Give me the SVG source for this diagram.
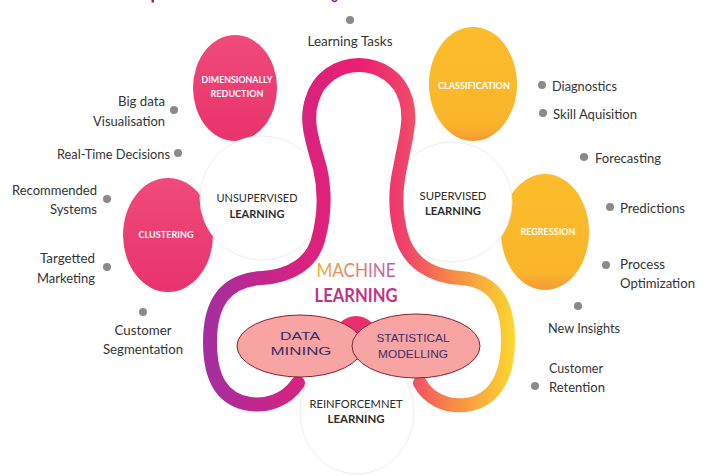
<svg xmlns="http://www.w3.org/2000/svg" width="709" height="476" viewBox="0 0 709 476">
<defs>
<linearGradient id="tube" gradientUnits="userSpaceOnUse" x1="205" y1="0" x2="515" y2="0">
<stop offset="0" stop-color="#a32ea0"/>
<stop offset="0.3" stop-color="#d6237f"/>
<stop offset="0.5" stop-color="#ea1f72"/>
<stop offset="0.65" stop-color="#f0456a"/>
<stop offset="0.8" stop-color="#f78a45"/>
<stop offset="1" stop-color="#fbd92e"/>
</linearGradient>
<linearGradient id="mach" gradientUnits="userSpaceOnUse" x1="316" y1="0" x2="398" y2="0">
<stop offset="0" stop-color="#f2a83a"/>
<stop offset="0.5" stop-color="#e08070"/>
<stop offset="1" stop-color="#b85ab8"/>
</linearGradient>
<linearGradient id="learn" gradientUnits="userSpaceOnUse" x1="315" y1="0" x2="398" y2="0">
<stop offset="0" stop-color="#b8358f"/>
<stop offset="1" stop-color="#c8307f"/>
</linearGradient>
<linearGradient id="pinkfill" x1="0" y1="0" x2="0" y2="1">
<stop offset="0" stop-color="#f04a7c"/>
<stop offset="1" stop-color="#e8336c"/>
</linearGradient>
<linearGradient id="yellowfill" x1="0" y1="0" x2="0" y2="1">
<stop offset="0" stop-color="#fbbd2c"/>
<stop offset="0.85" stop-color="#fab52a"/>
<stop offset="1" stop-color="#f59a35"/>
</linearGradient>
</defs>
<style>
.lbl{font-family:Lato,"Liberation Sans",sans-serif;font-size:14px;fill:#333333}
.dot{fill:#8a8a8a}
.pink{fill:url(#pinkfill)}
.yel{fill:url(#yellowfill)}
.ctxt{font-family:Lato,"Liberation Sans",sans-serif;font-weight:bold;font-size:9px;fill:#ffffff;text-anchor:middle}
.white{fill:#ffffff;stroke:#ececec;stroke-width:1}
.wtxt{font-family:Lato,"Liberation Sans",sans-serif;font-size:12px;fill:#2c2c2c;text-anchor:middle}
.wtxtb{font-family:Lato,"Liberation Sans",sans-serif;font-size:12px;font-weight:bold;fill:#2c2c2c;text-anchor:middle}
.ell{fill:#f7a4a2;stroke:#8b2030;stroke-width:1}
.etxt{font-family:"Liberation Sans",Arial,sans-serif;font-size:11.5px;fill:#3b2d6b;text-anchor:middle}
</style>
<rect width="709" height="476" fill="#ffffff"/>
<!-- cut-off title fragments -->
<rect x="151.5" y="0" width="2.5" height="2.5" fill="#9c1a8c"/>
<path d="M332 0 Q334.5 3 337 0" fill="none" stroke="#9c1a8c" stroke-width="1.6"/>

<g id="dimensionally-reduction">
<ellipse cx="235" cy="88" rx="42" ry="53" class="pink"/>
<text class="ctxt" x="237" y="83" textLength="71" lengthAdjust="spacingAndGlyphs">DIMENSIONALLY</text>
<text class="ctxt" x="237" y="97" textLength="53" lengthAdjust="spacingAndGlyphs">REDUCTION</text>
</g>
<g id="clustering">
<ellipse cx="168" cy="235" rx="45" ry="57" class="pink"/>
</g>
<g id="classification">
<ellipse cx="473" cy="84" rx="44" ry="57" class="yel"/>
<text class="ctxt" x="474" y="89" textLength="72" lengthAdjust="spacingAndGlyphs">CLASSIFICATION</text>
</g>
<g id="regression">
<ellipse cx="545" cy="232" rx="44" ry="58" class="yel"/>
</g>
<g id="unsupervised-learning">
<circle cx="262" cy="198" r="62" class="white"/>
<text class="wtxt" x="257" y="202" textLength="81" lengthAdjust="spacingAndGlyphs">UNSUPERVISED</text>
<text class="wtxtb" x="257" y="218" textLength="55" lengthAdjust="spacingAndGlyphs">LEARNING</text>
</g>
<g id="supervised-learning">
<circle cx="452" cy="202" r="60" class="white"/>
<text class="wtxt" x="453" y="200" textLength="67" lengthAdjust="spacingAndGlyphs">SUPERVISED</text>
<text class="wtxtb" x="453" y="215" textLength="56" lengthAdjust="spacingAndGlyphs">LEARNING</text>
</g>
<g id="clustering-label">
<text class="ctxt" x="166" y="238" textLength="55" lengthAdjust="spacingAndGlyphs">CLUSTERING</text>
</g>
<g id="regression-label">
<text class="ctxt" x="548" y="235" textLength="55" lengthAdjust="spacingAndGlyphs">REGRESSION</text>
</g>
<g id="reinforcement-learning">
<ellipse cx="357" cy="412" rx="57" ry="62" class="white"/>
<text class="wtxt" x="356" y="408" textLength="93" lengthAdjust="spacingAndGlyphs">REINFORCEMNET</text>
<text class="wtxtb" x="356" y="423" textLength="57" lengthAdjust="spacingAndGlyphs">LEARNING</text>
</g>

<g id="connectors">
<path d="M298 383 C285 402 265 406 250 404 C222 400 210 378 210 342 C210 300 228 280 262 278 C292 276 312 262 318 240 C325 215 325 190 320 168 C312 140 305 120 312 100 C318 78 338 65 359 65 C380 65 400 78 406 100 C412 120 405 140 400 168 C395 190 395 215 402 238 C410 262 430 276 460 278 C492 280 508 300 508 340 C508 380 492 402 465 405 C445 407 428 398 420 383" fill="none" stroke="url(#tube)" stroke-width="14" stroke-linecap="round"/>
</g>

<g id="machine-learning">
<text x="356" y="277" font-family="Lato,'Liberation Sans',sans-serif" font-size="19" fill="url(#mach)" text-anchor="middle" textLength="79" lengthAdjust="spacingAndGlyphs">MACHINE</text>
<text x="356" y="302" font-family="Lato,'Liberation Sans',sans-serif" font-size="19" font-weight="bold" fill="url(#learn)" text-anchor="middle" textLength="83" lengthAdjust="spacingAndGlyphs">LEARNING</text>
</g>

<circle cx="356" cy="338" r="22" fill="#e8306e"/>
<g id="data-mining">
<ellipse cx="300" cy="346" rx="63" ry="31" class="ell"/>
<text class="etxt" x="300" y="340" textLength="40" lengthAdjust="spacingAndGlyphs">DATA</text>
<text class="etxt" x="301" y="355" textLength="61" lengthAdjust="spacingAndGlyphs">MINING</text>
</g>
<g id="statistical-modelling">
<ellipse cx="416" cy="346" rx="64" ry="32" class="ell"/>
<text class="etxt" x="413" y="342" textLength="73" lengthAdjust="spacingAndGlyphs">STATISTICAL</text>
<text class="etxt" x="413" y="358" textLength="70" lengthAdjust="spacingAndGlyphs">MODELLING</text>
</g>

<g id="learning-tasks">
<circle cx="350" cy="20" r="4" class="dot"/>
<text class="lbl" x="350" y="46" text-anchor="middle" textLength="85" lengthAdjust="spacingAndGlyphs">Learning Tasks</text>
</g>
<g id="big-data">
<circle cx="174" cy="110" r="4" class="dot"/>
<text class="lbl" x="165" y="106" text-anchor="end" textLength="47" lengthAdjust="spacingAndGlyphs">Big data</text>
<text class="lbl" x="165" y="126" text-anchor="end" textLength="72" lengthAdjust="spacingAndGlyphs">Visualisation</text>
</g>
<g id="real-time">
<circle cx="178" cy="153" r="4" class="dot"/>
<text class="lbl" x="170" y="159" text-anchor="end" textLength="113" lengthAdjust="spacingAndGlyphs">Real-Time Decisions</text>
</g>
<g id="recommended">
<circle cx="107" cy="199" r="4" class="dot"/>
<text class="lbl" x="97" y="195" text-anchor="end" textLength="85" lengthAdjust="spacingAndGlyphs">Recommended</text>
<text class="lbl" x="97" y="214" text-anchor="end" textLength="47" lengthAdjust="spacingAndGlyphs">Systems</text>
</g>
<g id="targetted">
<circle cx="107" cy="267" r="4" class="dot"/>
<text class="lbl" x="95" y="263" text-anchor="end" textLength="55" lengthAdjust="spacingAndGlyphs">Targetted</text>
<text class="lbl" x="95" y="283" text-anchor="end" textLength="58" lengthAdjust="spacingAndGlyphs">Marketing</text>
</g>
<g id="customer-segmentation">
<circle cx="143" cy="312" r="4" class="dot"/>
<text class="lbl" x="143" y="335" text-anchor="middle" textLength="57" lengthAdjust="spacingAndGlyphs">Customer</text>
<text class="lbl" x="143" y="354" text-anchor="middle" textLength="80" lengthAdjust="spacingAndGlyphs">Segmentation</text>
</g>
<g id="diagnostics">
<circle cx="542" cy="85" r="4" class="dot"/>
<text class="lbl" x="552" y="91" textLength="65" lengthAdjust="spacingAndGlyphs">Diagnostics</text>
</g>
<g id="skill">
<circle cx="543" cy="113" r="4" class="dot"/>
<text class="lbl" x="553" y="119" textLength="84" lengthAdjust="spacingAndGlyphs">Skill Aquisition</text>
</g>
<g id="forecasting">
<circle cx="584" cy="157" r="4" class="dot"/>
<text class="lbl" x="595" y="163" textLength="66" lengthAdjust="spacingAndGlyphs">Forecasting</text>
</g>
<g id="predictions">
<circle cx="610" cy="207" r="4" class="dot"/>
<text class="lbl" x="620" y="213" textLength="65" lengthAdjust="spacingAndGlyphs">Predictions</text>
</g>
<g id="process">
<circle cx="606" cy="265" r="4" class="dot"/>
<text class="lbl" x="620" y="269" textLength="45" lengthAdjust="spacingAndGlyphs">Process</text>
<text class="lbl" x="620" y="288" textLength="75" lengthAdjust="spacingAndGlyphs">Optimization</text>
</g>
<g id="new-insights">
<circle cx="578" cy="306" r="4" class="dot"/>
<text class="lbl" x="548" y="333" textLength="72" lengthAdjust="spacingAndGlyphs">New Insights</text>
</g>
<g id="customer-retention">
<circle cx="535" cy="386" r="4" class="dot"/>
<text class="lbl" x="549" y="373" textLength="54" lengthAdjust="spacingAndGlyphs">Customer</text>
<text class="lbl" x="549" y="392" textLength="56" lengthAdjust="spacingAndGlyphs">Retention</text>
</g>
</svg>
